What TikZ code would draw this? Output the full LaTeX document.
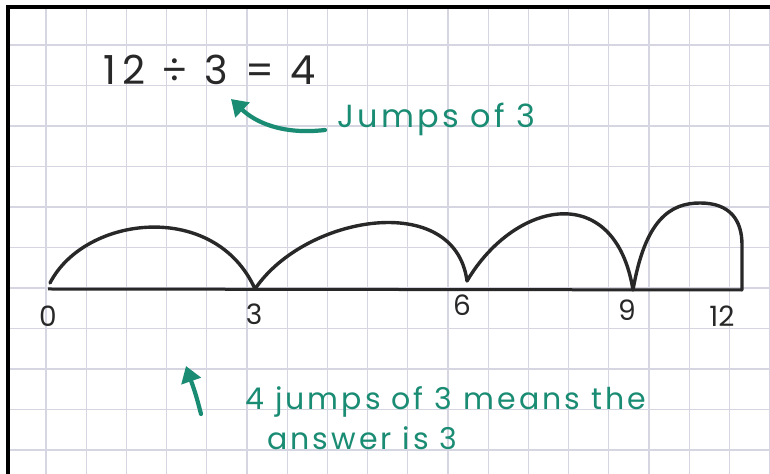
\documentclass[tikz,border=0pt]{standalone}
\usepackage{fontspec}
\setmainfont{Poppins}
\usepackage{tikz}
\usetikzlibrary{arrows.meta, calc}
\usepackage{xcolor}
\definecolor{penteal}{RGB}{25,140,115}
\definecolor{gridline}{RGB}{214,214,226}
\definecolor{pencil}{RGB}{40,40,40}

\tikzset{
  numlabel/.style={font=\fontsize{14}{16}\selectfont, text=pencil, inner sep=0pt},
  hop/.style={draw=pencil, line width=1.7pt, line join=round, line cap=round},
  tealarrow/.style={draw=penteal, line width=2.1pt, line cap=round, -{Triangle[length=8pt,width=10pt]}},
  note/.style={text=penteal, font=\fontsize{15}{20}\selectfont\addfontfeature{LetterSpace=10}, inner sep=0pt}
}

\begin{document}
\begin{tikzpicture}[x=0.5pt, y=-0.5pt]
\useasboundingbox (0,0) rectangle (770,474);
\fill[white] (0,0) rectangle (770,474);
% squared paper
\foreach \gx in {0,...,18}
  \draw[gridline, line width=0.6pt] ({46+40.2*\gx},7) -- ({46+40.2*\gx},474);
\foreach \gy in {0,...,10}
  \draw[gridline, line width=0.6pt] (8,{45+40.5*\gy}) -- (770,{45+40.5*\gy});
\draw[black, line width=2.2pt] (8,474) -- (8,7) -- (770,7);

% the sum and its note
\node[font=\fontsize{20}{24}\selectfont\addfontfeature{LetterSpace=15}, text=pencil, anchor=base west, inner sep=0pt] (sum) at (103,85) {12 ÷ 3 = 4};
\node[note, font=\fontsize{16}{20}\selectfont\addfontfeature{LetterSpace=10}, anchor=base west] (jumps) at (337,128) {Jumps of 3};
\coordinate (tailA) at (325,130);
\coordinate (tipA) at (231,99);
\draw[tealarrow] (tailA) .. controls (282,135) and (255,122) .. (tipA);

% number line with the hops
\coordinate (n0) at (48,289);
\coordinate (n12) at (742,290);
\coordinate (j0) at (50,283);
\coordinate (j3) at (255,289);
\coordinate (j6) at (467,281);
\coordinate (j9) at (633,290);
\coordinate (top12) at (700,203);
\coordinate (drop12) at (742,245);
\draw[draw=pencil, line width=1.5pt] (n0) -- (n12);
\draw[hop] (j0) .. controls (85,215) and (215,200) .. (j3)
  .. controls (305,215) and (455,190) .. (j6)
  .. controls (515,200) and (615,180) .. (j9)
  .. controls (645,220) and (670,203) .. (top12)
  .. controls (730,203) and (742,220) .. (drop12) -- (n12);

\node[numlabel] (l0) at (48,316) {0};
\node[numlabel] (l3) at (254,314) {3};
\node[numlabel] (l6) at (462,305) {6};
\node[numlabel] (l9) at (627,310) {9};
\node[numlabel] (l12) at (722,316) {12};

% explanation below
\coordinate (tailB) at (201,414);
\coordinate (tipB) at (186,366);
\draw[tealarrow] (tailB) .. controls (196,395) .. (tipB);
\node[note, anchor=base west] (means) at (245,410) {4 jumps of 3 means the};
\node[note, anchor=base west] (answer) at (267,450) {answer is 3};
\end{tikzpicture}
\end{document}
